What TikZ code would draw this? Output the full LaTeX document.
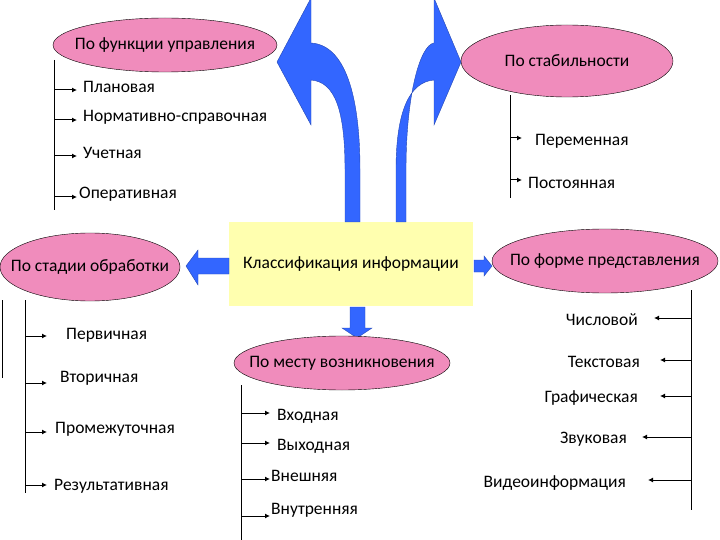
\documentclass[tikz,border=0pt]{standalone}
\usepackage{fontspec}
\setmainfont{Carlito}
\usetikzlibrary{shapes.geometric,arrows.meta}
\definecolor{pk}{RGB}{240,140,188}
\definecolor{bl}{RGB}{51,102,255}
\definecolor{yl}{RGB}{255,255,175}
\newcommand{\zb}[1]{\makebox[0pt]{#1}}
\begin{document}
\begin{tikzpicture}[x=1pt,y=-1pt,
  ell/.style={ellipse,draw,fill=pk,inner sep=0pt,font=\fontsize{17.5}{19}\selectfont},
  lbl/.style={inner sep=0pt,font=\fontsize{17.5}{19}\selectfont},
  ln/.style={draw,line width=0.8pt},
  ar/.style={draw,line width=1pt,-{Latex[length=5pt,width=5pt]}},
  big/.style={fill=bl,draw=bl!70!black,line width=0.4pt}]
\useasboundingbox (0,0) rectangle (720,540);
% box
\node[fill=yl,minimum width=244pt,minimum height=83pt,inner sep=0pt,font=\fontsize{17.5}{19}\selectfont] (box) at (351,264) {Классификация информации};
% big curved arrows
\path[big] (360,222) -- (360,170) .. controls (360,95) and (345,45) .. (311,43) -- (311,-2) -- (277,62) -- (311,125) -- (311,80) .. controls (335,82) and (345,110) .. (345,170) -- (345,222) -- cycle;
\path[big] (396,222) -- (396,170) .. controls (396,110) and (410,82) .. (434,80) -- (434,125) -- (461,62) -- (434,-2) -- (434,43) .. controls (420,45) and (406,95) .. (406,170) -- (406,222) -- cycle;
% left arrow
\path[big] (229,258) -- (198,258) -- (198,250) -- (186,266) -- (198,285) -- (198,274) -- (229,274) -- cycle;
% right arrow
\path[big] (474,260) -- (484,260) -- (484,256) -- (492,266) -- (484,276) -- (484,272) -- (474,272) -- cycle;
% down arrow
\path[big] (350,307) -- (365,307) -- (365,328) -- (372,328) -- (357,338) -- (342,328) -- (350,328) -- cycle;
% ellipses
\node[ell,minimum width=224pt,minimum height=54pt] (fu) at (165,45) {\zb{По функции управления}};
\node[ell,minimum width=212pt,minimum height=72pt] (st) at (567,61) {\zb{По стабильности}};
\node[ell,minimum width=180pt,minimum height=68pt] (sd) at (90,267) {\zb{По стадии обработки}};
\node[ell,minimum width=216pt,minimum height=54pt] (mv) at (342,363) {\zb{По месту возникновения}};
\node[ell,minimum width=226pt,minimum height=64pt] (fp) at (605,261) {\zb{По форме представления}};
% function branch
\coordinate (f0) at (54,60); \coordinate (f1) at (54,210);
\draw[ln] (f0) -- (f1);
\foreach \y/\t/\x [count=\i] in {90/Плановая/83,120/Нормативно-справочная/83,156/Учетная/83,197/Оперативная/79}{
  \coordinate (fa\i) at (54,\y);
  \node[lbl,anchor=west] (ft\i) at (\x,\y-3) {\t};
  \draw[ar] (fa\i) -- ++(23,0);
}
% stability branch
\draw[ln] (510,95) -- (510,198);
\foreach \y/\t/\x [count=\i] in {138/Переменная/535,180/Постоянная/528}{
  \coordinate (sa\i) at (510,\y);
  \node[lbl,anchor=west] (stt\i) at (\x,\y+3) {\t};
  \draw[ar] (sa\i) -- ++(12,0);
}
% stage branch
\draw[ln] (2,300) -- (2,378);
\draw[ln] (25,300) -- (25,493);
\foreach \y/\t/\x/\ty [count=\i] in {336/Первичная/66/335,383/Вторичная/60/378,432/Промежуточная/55/429,485/Результативная/54/486}{
  \coordinate (da\i) at (25,\y);
  \node[lbl,anchor=west] (dt\i) at (\x,\ty) {\t};
  \draw[ar] (da\i) -- ++(22,0);
}
% place branch
\draw[ln] (241,385) -- (241,540);
\foreach \y/\t/\x/\ty [count=\i] in {413/Входная/277/416,443/Выходная/277/446,479/Внешняя/271/476,516/Внутренняя/271/510}{
  \coordinate (ma\i) at (241,\y);
  \node[lbl,anchor=west] (mt\i) at (\x,\ty) {\t};
  \draw[ar] (ma\i) -- ++(29,0);
}
% form branch
\draw[ln] (691,290) -- (691,510);
\foreach \y/\t/\x/\tx/\ty [count=\i] in {318/Числовой/654/638/320,360/Текстовая/660/640/362,396/Графическая/660/638/398,437/Звуковая/642/627/439,480/Видеоинформация/648/626/483}{
  \coordinate (pa\i) at (691,\y);
  \coordinate (pb\i) at (\x,\y);
  \node[lbl,anchor=east] (pt\i) at (\tx,\ty) {\t};
  \draw[ar] (pa\i) -- (pb\i);
}
\end{tikzpicture}
\end{document}
